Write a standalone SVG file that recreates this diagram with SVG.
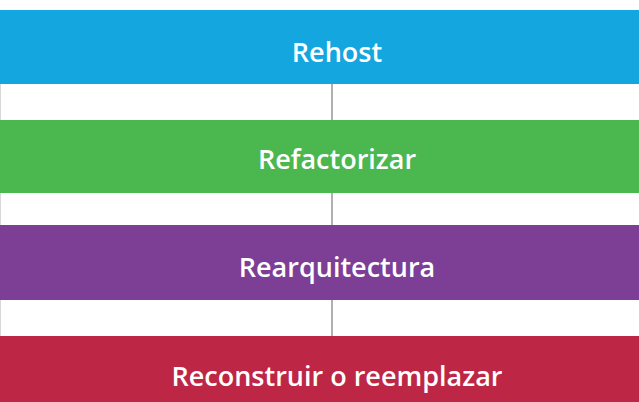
<svg xmlns="http://www.w3.org/2000/svg" width="639" height="402" viewBox="0 0 639 402">
<style>
.lbl{font-family:"Open Sans","Noto Sans",sans-serif;font-weight:600;font-size:27px;fill:#ffffff;text-anchor:middle}
.conn{stroke:#b0b0b0;stroke-width:2;fill:none}
.edge{stroke:#d8d8d8;stroke-width:1;fill:none}
</style>
<rect width="639" height="402" fill="#ffffff"/>
<g id="connectors">
<line class="edge" x1="0.5" y1="84" x2="0.5" y2="336"/>
<line class="conn" x1="332" y1="84" x2="332" y2="120"/>
<line class="conn" x1="332" y1="193" x2="332" y2="225"/>
<line class="conn" x1="332" y1="300" x2="332" y2="336"/>
</g>
<g id="rehost">
<rect x="0" y="10" width="639" height="74" fill="#13a6df"/>
<text class="lbl" x="337" y="62">Rehost</text>
</g>
<g id="refactorizar">
<rect x="0" y="120" width="639" height="73" fill="#4bb74f"/>
<text class="lbl" x="337" y="169">Refactorizar</text>
</g>
<g id="rearquitectura">
<rect x="0" y="225" width="639" height="75" fill="#7d3e95"/>
<text class="lbl" x="337" y="277">Rearquitectura</text>
</g>
<g id="reconstruir">
<rect x="0" y="336" width="639" height="66" fill="#be2645"/>
<text class="lbl" x="337" y="386">Reconstruir o reemplazar</text>
</g>
</svg>
